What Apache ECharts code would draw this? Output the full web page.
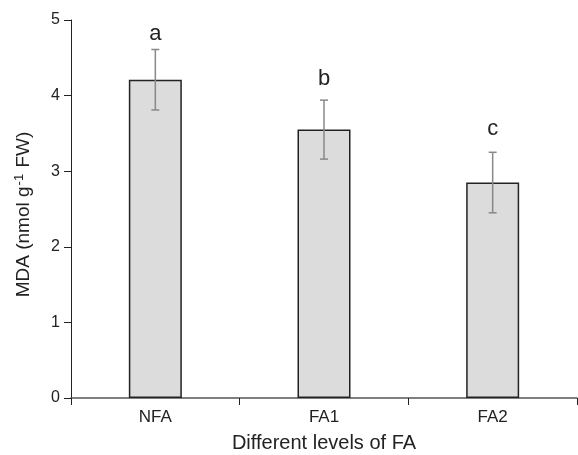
<!DOCTYPE html>
<html>
<head>
<meta charset="utf-8">
<script src="https://cdn.jsdelivr.net/npm/echarts@6/dist/echarts.min.js"></script>
<style>html,body{margin:0;padding:0;background:#fff}#c{width:578px;height:455px}</style>
</head>
<body>
<div id="c"></div>
<script>
var categories = ['NFA', 'FA1', 'FA2'];
var means = [4.21, 3.55, 2.85];
var errors = [0.40, 0.39, 0.40];
var letters = ['a', 'b', 'c'];
var letterBaseline = [4.74, 4.14, 3.48];
var yTicks = [0, 1, 2, 3, 4, 5];

var chart = echarts.init(document.getElementById('c'), null, {renderer: 'canvas'});
var font = 'Liberation Sans, Arial, sans-serif';
var option = {
  animation: false,
  grid: {left: 71, top: 20, right: 1, bottom: 57, containLabel: false, outerBoundsMode: 'none'},
  xAxis: {
    type: 'category',
    data: categories,
    boundaryGap: true,
    axisLine: {lineStyle: {color: '#555', width: 1.5}},
    axisTick: {show: true, length: 7, inside: false, alignWithLabel: false, lineStyle: {color: '#222', width: 1}},
    axisLabel: {color: '#222', fontSize: 17, fontFamily: font, margin: 11},
    name: 'Different levels of FA',
    nameLocation: 'middle',
    nameGap: 35,
    nameTextStyle: {color: '#222', fontSize: 20, fontFamily: font}
  },
  yAxis: {
    type: 'value',
    min: 0, max: 5, interval: 1,
    splitLine: {show: false},
    axisLine: {show: true, lineStyle: {color: '#222', width: 1}},
    axisTick: {show: true, length: 7, lineStyle: {color: '#222', width: 1}},
    axisLabel: {color: '#222', fontSize: 16, fontFamily: font, margin: 11,
      formatter: function (v) { return yTicks.indexOf(v) >= 0 ? String(v) : ''; }},
    name: '{a|MDA (nmol g}{s|-1}{a| FW)}',
    nameLocation: 'middle',
    nameGap: 36,
    nameTextStyle: {
      padding: [0, 11, 0, 0],
      rich: {
        a: {color: '#222', fontSize: 19, fontFamily: font, lineHeight: 22},
        s: {color: '#222', fontSize: 13, fontFamily: font, verticalAlign: 'top', lineHeight: 22, padding: [0, 1, 8, 1]}
      }
    }
  },
  series: [
    {
      type: 'bar',
      data: means,
      barWidth: 53,
      itemStyle: {color: '#dcdcdc', borderColor: '#222', borderWidth: 1.5}
    },
    {
      type: 'custom',
      data: categories.map(function (c, i) { return [i, means[i] - errors[i], means[i] + errors[i]]; }),
      renderItem: function (params, api) {
        var x = api.coord([api.value(0), 0])[0];
        var lo = api.coord([api.value(0), api.value(1)])[1];
        var hi = api.coord([api.value(0), api.value(2)])[1];
        var st = {stroke: '#888', lineWidth: 1.5};
        return {type: 'group', children: [
          {type: 'line', shape: {x1: x, y1: lo, x2: x, y2: hi}, style: st},
          {type: 'line', shape: {x1: x - 4, y1: lo, x2: x + 4, y2: lo}, style: st},
          {type: 'line', shape: {x1: x - 4, y1: hi, x2: x + 4, y2: hi}, style: st}
        ]};
      },
      z: 5
    },
    {
      type: 'custom',
      data: categories.map(function (c, i) { return [i, letterBaseline[i]]; }),
      renderItem: function (params, api) {
        var p = api.coord([api.value(0), api.value(1)]);
        return {type: 'text', x: p[0], y: p[1] + 5, style: {
          text: letters[params.dataIndex], fill: '#222', fontSize: 22, fontFamily: font,
          align: 'center', verticalAlign: 'bottom'}};
      },
      z: 6
    }
  ]
};
chart.setOption(option);
</script>
</body>
</html>
